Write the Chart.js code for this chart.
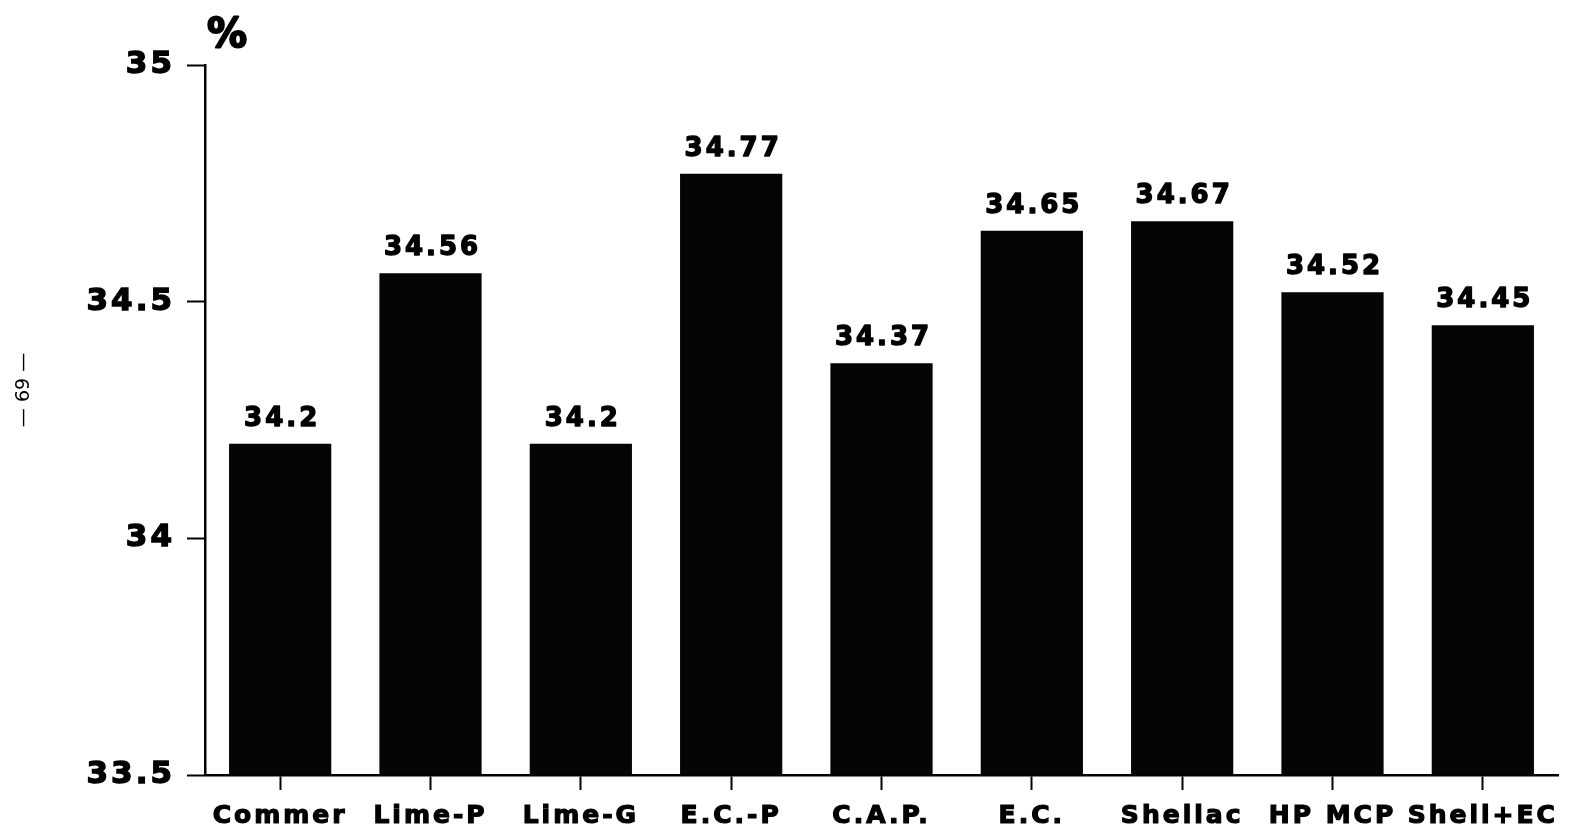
<!DOCTYPE html>
<html>
<head>
<meta charset="utf-8">
<script src="https://cdn.jsdelivr.net/npm/chart.js@4"></script>
<style>
  body { margin: 0; background: #fff; }
</style>
</head>
<body>
<canvas id="myChart" width="1569" height="836"></canvas>
<script>
// chart data
const categories = ['Commer', 'Lime-P', 'Lime-G', 'E.C.-P', 'C.A.P.', 'E.C.', 'Shellac', 'HP MCP', 'Shell+EC'];
const values = [34.2, 34.56, 34.2, 34.77, 34.37, 34.65, 34.67, 34.52, 34.45];
const valueLabels = ['34.2', '34.56', '34.2', '34.77', '34.37', '34.65', '34.67', '34.52', '34.45'];
const yTicks = [33.5, 34, 34.5, 35];
const unitLabel = '%';
const pageLabel = '\u2014 69 \u2014';

const FONT = '"DejaVu Sans", sans-serif';

// wide scanned lettering -> add some letter spacing everywhere
const spacingPlugin = {
  id: 'spacing',
  beforeDraw(chart) {
    chart.ctx.letterSpacing = '3px';
  }
};

// value on top of each bar, unit "%" and the page number in the margin
const labelsPlugin = {
  id: 'labels',
  afterDatasetsDraw(chart) {
    const ctx = chart.ctx;
    const meta = chart.getDatasetMeta(0);
    ctx.save();
    ctx.letterSpacing = '3px';
    ctx.fillStyle = '#000';
    ctx.strokeStyle = '#000';
    ctx.lineWidth = 1.4;
    ctx.lineJoin = 'round';
    ctx.font = 'bold 26px ' + FONT;
    ctx.textAlign = 'center';
    ctx.textBaseline = 'alphabetic';
    meta.data.forEach((bar, i) => {
      ctx.fillText(valueLabels[i], bar.x + 2, bar.y - 18);
      ctx.strokeText(valueLabels[i], bar.x + 2, bar.y - 18);
    });

    const yScale = chart.scales.y;
    ctx.font = 'bold 40px ' + FONT;
    ctx.textAlign = 'left';
    ctx.lineWidth = 2;
    ctx.fillText(unitLabel, yScale.right + 2, yScale.top - 18);
    ctx.strokeText(unitLabel, yScale.right + 2, yScale.top - 18);

    ctx.font = '19px ' + FONT;
    ctx.letterSpacing = '0px';
    ctx.translate(24, 390);
    ctx.rotate(-Math.PI / 2);
    ctx.textAlign = 'center';
    ctx.textBaseline = 'middle';
    ctx.fillText(pageLabel, 0, 0);
    ctx.restore();
  }
};

const ctx = document.getElementById('myChart').getContext('2d');
const myChart = new Chart(ctx, {
  type: 'bar',
  data: {
    labels: categories,
    datasets: [{
      data: values,
      backgroundColor: '#050505',
      borderWidth: 0,
      barPercentage: 0.68,
      categoryPercentage: 1
    }]
  },
  options: {
    responsive: false,
    devicePixelRatio: 1,
    animation: false,
    layout: { padding: { left: 0, top: 65, right: 11, bottom: 0 } },
    plugins: {
      legend: { display: false },
      tooltip: { enabled: false }
    },
    scales: {
      x: {
        grid: {
          display: true,
          offset: false,
          drawOnChartArea: false,
          drawTicks: true,
          tickLength: 15,
          tickWidth: 2,
          color: '#000'
        },
        border: { display: true, color: '#000', width: 2.5 },
        ticks: {
          color: '#000',
          font: { family: FONT, size: 25, weight: 'bold' },
          textStrokeColor: '#000',
          textStrokeWidth: 1.2,
          padding: 11,
          maxRotation: 0,
          autoSkip: false
        },
        afterFit(scale) { scale.height = 61; }
      },
      y: {
        min: 33.5,
        max: 35,
        afterBuildTicks(scale) {
          scale.ticks = yTicks.map(v => ({ value: v }));
        },
        grid: {
          display: true,
          drawOnChartArea: false,
          drawTicks: true,
          tickLength: 18,
          tickWidth: 2,
          color: '#000'
        },
        border: { display: true, color: '#000', width: 2.5 },
        ticks: {
          color: '#000',
          font: { family: FONT, size: 31, weight: 'bold' },
          textStrokeColor: '#000',
          textStrokeWidth: 1.4,
          padding: 12,
          callback: v => String(v)
        },
        afterFit(scale) { scale.width = 205; }
      }
    }
  },
  plugins: [spacingPlugin, labelsPlugin]
});
</script>
</body>
</html>
